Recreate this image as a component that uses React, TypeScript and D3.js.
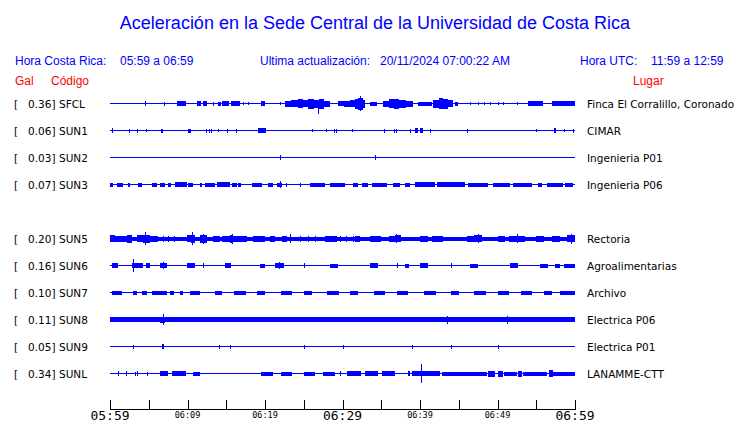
import React from "react";
import * as d3 from "d3";

// ---------- data ----------
const title = "Aceleración en la Sede Central de la Universidad de Costa Rica";
const localRange = "05:59 a 06:59";
const utcRange = "11:59 a 12:59";
const updated = "20/11/2024 07:00:22 AM";

const codes = ["SFCL", "SUN1", "SUN2", "SUN3", "SUN5", "SUN6", "SUN7", "SUN8", "SUN9", "SUNL"];
const slots = [0, 1, 2, 3, 5, 6, 7, 8, 9, 10];
const gals = [0.36, 0.06, 0.03, 0.07, 0.2, 0.16, 0.1, 0.11, 0.05, 0.34];
const places = [
  "Finca El Corralillo, Coronado",
  "CIMAR",
  "Ingenieria P01",
  "Ingenieria P06",
  "Rectoria",
  "Agroalimentarias",
  "Archivo",
  "Electrica P06",
  "Electrica P01",
  "LANAMME-CTT",
];
// background noise half-amplitude of each trace
const baseAmp = [0, 0, 0, 0, 1.5, 0, 0, 2, 0, 0];

// bursts: [startMinute, endMinute, halfAmplitude]  (minutes after 05:59)
const burstsSFCL = [
  [8.6, 9.8, 2], [11.2, 11.7, 2], [12.0, 12.5, 2], [13.9, 14.3, 1.5], [14.5, 15.4, 2], [15.6, 16.8, 2],
  [19.5, 20.0, 2], [22.6, 23.4, 2.5], [23.4, 24.2, 3], [24.2, 24.9, 4], [24.9, 25.6, 3], [25.6, 26.3, 4.5],
  [26.3, 27.0, 3.5], [27.0, 27.6, 4.5], [27.6, 28.4, 2.5],
  [29.4, 30.2, 2], [30.2, 31.0, 2.5], [31.0, 31.6, 3], [31.6, 32.0, 4.5], [32.0, 32.6, 5.5], [32.6, 32.9, 3.5], [33.5, 34.4, 1.5],
  [35.2, 36.0, 2.5], [36.0, 36.6, 4], [36.6, 37.3, 4.5], [37.3, 38.2, 3.5], [38.2, 39.1, 2.5], [39.7, 41.5, 1.5],
  [41.7, 42.4, 3.5], [42.4, 43.0, 5], [43.0, 43.6, 4.5], [43.6, 44.3, 3], [44.5, 44.9, 1.5],
  [53.9, 55.9, 2], [57.0, 60, 2],
];
const burstsSUN1 = [[6.6, 6.9, 1.5], [10.1, 10.4, 1.5], [19.1, 20.1, 2], [39.4, 39.8, 2], [40.0, 40.4, 2], [57.3, 57.6, 2]];
const burstsSUN2: number[][] = [];
const burstsSUN3 = [
  [0, 0.4, 1.5], [0.9, 1.7, 1.5], [2.3, 2.6, 1.5], [3.6, 4.1, 1.5], [5.4, 6.1, 1.5], [6.5, 7.1, 1.5],
  [7.5, 7.9, 1.5], [8.4, 9.9, 2], [10.1, 10.7, 1.5], [11.6, 11.9, 1.5], [12.3, 13.5, 1.5], [13.8, 15.5, 2],
  [15.7, 16.4, 1.5], [16.5, 16.9, 1.5], [18.3, 19.6, 1.5], [20.4, 21.0, 1.5], [21.5, 22.2, 1.5],
  [25.8, 27.7, 1.5], [28.4, 30.3, 1.5], [31.4, 32.0, 1.5], [32.5, 33.3, 1.5], [33.8, 35.7, 1.5],
  [36.5, 37.4, 1.5], [38.1, 38.7, 1.5], [39.4, 41.9, 2], [42.2, 45.8, 2], [46.2, 48.8, 1.5],
  [49.4, 51.6, 1.5], [52.0, 54.5, 1.5], [55.2, 55.7, 1.5], [56.4, 58.5, 1.5], [58.7, 59.7, 1.5],
];
const burstsSUN5 = [
  [0, 0.6, 3], [0.6, 2.2, 2.5], [2.2, 2.8, 3.5], [3.5, 4.2, 3], [4.2, 5.2, 3.5], [5.2, 6.2, 2.5], [9.9, 10.4, 3], [10.4, 11.0, 3.5],
  [11.6, 12.5, 3.5], [13.3, 14.2, 2.5], [14.5, 15.5, 2.5], [15.5, 15.9, 3.5], [15.9, 17.7, 2.5], [18.5, 20.0, 2.5],
  [20.6, 21.3, 2.5], [22.2, 22.8, 2.5], [27.7, 29.3, 2.5], [31.6, 32.3, 2.5], [33.5, 35.0, 2.5], [36.0, 36.8, 2.5],
  [36.8, 37.6, 3], [40.0, 41.0, 2.5], [41.5, 43.0, 2.5], [46.0, 47.0, 2.5], [47.0, 48.0, 3], [50.0, 51.0, 2.5],
  [51.5, 53.5, 2.5], [55.0, 56.0, 2.5], [57.0, 58.0, 2.5], [59.0, 60, 3],
];
const burstsSUN6 = [
  [0.2, 1.0, 2], [2.8, 4.2, 2], [4.7, 5.2, 2], [6.5, 7.4, 2], [9.9, 11.0, 2], [14.8, 15.6, 2], [19.4, 20.0, 1.5],
  [21.3, 22.4, 2], [28.4, 29.4, 1.5], [33.5, 34.6, 2], [38.0, 38.6, 1.5], [40.0, 41.0, 2], [46.5, 47.5, 1.5],
  [51.6, 52.6, 2], [55.5, 56.5, 1.5], [57.4, 58.0, 1.5], [58.6, 60, 1.5],
];
const burstsSUN7 = [
  [0.3, 1.6, 1.5], [3.0, 3.5, 1.5], [4.1, 4.8, 1.5], [5.4, 7.4, 1.5], [7.7, 8.2, 1.5], [9.0, 9.4, 1.5],
  [10.3, 11.6, 1.5], [13.5, 14.5, 1.5], [16.0, 17.5, 1.5], [19.0, 20.0, 1.5], [22.0, 23.5, 1.5], [25.0, 26.0, 1.5],
  [28.0, 29.5, 1.5], [31.0, 32.0, 1.5], [34.0, 35.5, 1.5], [37.0, 38.5, 1.5], [40.5, 42.0, 1.5], [44.0, 45.0, 1.5],
  [47.0, 48.5, 1.5], [50.0, 51.5, 1.5], [53.0, 54.5, 1.5], [56.0, 57.0, 1.5], [58.0, 60, 1.5],
];
const burstsSUN8 = [[6.5, 7.1, 2.5]];
const burstsSUN9 = [[6.7, 7.0, 2]];
const burstsSUNL = [
  [6.5, 7.5, 2], [8.0, 9.8, 2], [10.7, 11.6, 1.5], [19.5, 21.0, 1.5], [22.0, 23.5, 1.5], [25.0, 26.5, 1.5],
  [27.5, 29.0, 1.5], [30.6, 32.4, 2], [32.9, 34.6, 2], [35.1, 36.8, 2], [38.4, 38.7, 2],
  [39.0, 42.6, 2], [42.8, 48.6, 1.5], [48.8, 49.7, 2.5], [50.1, 50.7, 2.5], [50.9, 52.5, 1.5], [52.6, 53.2, 2.5],
  [53.3, 56.4, 1.5], [56.6, 57.1, 3], [57.1, 60, 1.5],
];
const bursts = [burstsSFCL, burstsSUN1, burstsSUN2, burstsSUN3, burstsSUN5, burstsSUN6, burstsSUN7, burstsSUN8, burstsSUN9, burstsSUNL];

// spikes: [minute, up, down]
const spikesSFCL = [
  [4.5, 2, 2], [7.0, 1.5, 1.5], [13.3, 1.5, 1.5], [17.2, 1, 1], [17.8, 1, 1], [21.9, 1, 1], [26.8, 3, 10],
  [32.2, 7, 7], [46.5, 1, 1], [47.5, 1, 1], [48.2, 1, 1], [49.0, 1, 1], [50.0, 1, 1], [50.7, 1, 1], [52.5, 1, 1],
];
const spikesSUN1 = [
  [0.26, 2, 2], [2.45, 1.5, 1.5], [3.5, 1.5, 1.5], [4.6, 1, 1], [12.4, 1.5, 1.5], [12.8, 1.5, 1.5], [13.0, 1.5, 1.5],
  [13.9, 1, 1], [15.1, 1.5, 1.5], [16.3, 1.5, 1.5], [26.1, 1, 1], [27.9, 1, 1], [28.9, 1.5, 1.5], [29.2, 1.5, 1.5],
  [31.2, 1, 1], [35.4, 1.5, 1.5], [36.6, 1.5, 1.5], [36.9, 1.5, 1.5], [38.7, 1.5, 1.5], [41.3, 1.5, 1.5],
  [46.1, 1.5, 1.5], [55.0, 1, 1], [58.6, 1, 1], [59.7, 1.5, 1.5],
];
const spikesSUN2 = [[21.9, 2, 2], [34.2, 2, 2]];
const spikesSUN3 = [[21.9, 3, 3], [22.7, 1.5, 1.5], [24.5, 1.5, 1.5]];
const spikesSUN5 = [
  [4.5, 6, 6], [6.8, 2.5, 2.5], [7.5, 2.5, 2.5], [8.3, 2.5, 2.5], [10.6, 6, 6], [12.0, 4.5, 4.5], [15.7, 4.5, 4.5],
  [23.2, 4, 4], [24.5, 2.5, 2.5], [25.5, 2.5, 2.5], [26.5, 2.5, 2.5], [29.7, 2.5, 2.5], [30.5, 2.5, 2.5],
  [31.4, 2.5, 2.5], [36.9, 4, 4], [47.5, 4, 4], [52.5, 4, 4], [59.5, 4.5, 4.5],
];
const spikesSUN6 = [[3.0, 6, 6], [6.9, 3, 3], [12.0, 2, 2], [21.8, 3, 3], [25.0, 2, 2], [37.0, 2, 2], [44.0, 2, 2]];
const spikesSUN7: number[][] = [];
const spikesSUN8 = [[6.8, 5, 5], [43.5, 3.5, 3.5], [51.2, 3.5, 3.5]];
const spikesSUN9 = [[3.0, 1.5, 1.5], [14.0, 1.5, 1.5], [15.5, 1.5, 1.5], [25.0, 1.5, 1.5], [30.0, 1.5, 1.5], [39.0, 1.5, 1.5], [44.0, 1.5, 1.5], [50.0, 1.5, 1.5]];
const spikesSUNL = [[1.0, 2, 2], [2.1, 2, 2], [3.2, 1.5, 1.5], [3.5, 2, 2], [4.8, 1.5, 1.5], [29.7, 2, 2], [40.1, 9, 9]];
const spikes = [spikesSFCL, spikesSUN1, spikesSUN2, spikesSUN3, spikesSUN5, spikesSUN6, spikesSUN7, spikesSUN8, spikesSUN9, spikesSUNL];

const tickMinutes = [0, 5, 10, 15, 20, 25, 30, 35, 40, 45, 50, 55, 60];
const tickLabels = [
  { m: 0, label: "05:59", big: true },
  { m: 10, label: "06:09", big: false },
  { m: 20, label: "06:19", big: false },
  { m: 30, label: "06:29", big: true },
  { m: 40, label: "06:39", big: false },
  { m: 50, label: "06:49", big: false },
  { m: 60, label: "06:59", big: true },
];

// ---------- chart ----------
const W = 740;
const H = 423;
const BLUE = "#0000ff";
const RED = "#ff0000";
const HELV = "'Liberation Sans', Arial, sans-serif";
const DJV = "'DejaVu Sans', sans-serif";
const MONO = "'DejaVu Sans Mono', monospace";

export default function App() {
  const x = d3.scaleLinear().domain([0, 60]).range([110, 575]);
  const y = d3.scaleLinear().domain([0, 1]).range([103.5, 130.5]);
  const axisY = 409.5;

  return (
    <svg width={W} height={H} style={{ position: "absolute", left: 0, top: 0, background: "#fff" }}>
      <rect width={W} height={H} fill="#fff" />
      <text x={375} y={29} textAnchor="middle" fontFamily={HELV} fontSize={18} fill={BLUE}>
        {title}
      </text>
      <g fontFamily={HELV} fontSize={12} fill={BLUE}>
        <text x={15} y={65}>Hora Costa Rica:</text>
        <text x={120} y={65}>{localRange}</text>
        <text x={260} y={65}>Ultima actualización:</text>
        <text x={380} y={65}>{updated}</text>
        <text x={580} y={65}>Hora UTC:</text>
        <text x={651} y={65}>{utcRange}</text>
      </g>
      <g fontFamily={HELV} fontSize={12} fill={RED}>
        <text x={15} y={85}>Gal</text>
        <text x={51} y={85}>Código</text>
        <text x={633} y={85}>Lugar</text>
      </g>

      {codes.map((code, i) => {
        const cy = y(slots[i]);
        const base = baseAmp[i];
        return (
          <g key={code}>
            <g fontFamily={DJV} fontSize={10.5} fill="#000">
              <text x={14} y={cy + 4.5}>[</text>
              <text x={55.5} y={cy + 4.5} textAnchor="end">{gals[i].toFixed(2) + "]"}</text>
              <text x={59} y={cy + 4.5}>{code}</text>
              <text x={587} y={cy + 4.5}>{places[i]}</text>
            </g>
            <g shapeRendering="crispEdges" fill={BLUE} stroke="none">
              <rect x={x(0)} y={cy - 0.5 - base} width={x(60) - x(0)} height={1 + 2 * base} />
              {bursts[i].map((b, j) => (
                <rect key={j} x={x(b[0])} y={cy - 0.5 - b[2]} width={Math.max(1, x(b[1]) - x(b[0]))} height={1 + 2 * b[2]} />
              ))}
              {spikes[i].map((s, j) => (
                <rect key={"s" + j} x={x(s[0])} y={cy - 0.5 - s[1]} width={1} height={1 + s[1] + s[2]} />
              ))}
            </g>
          </g>
        );
      })}

      <g stroke="#000" strokeWidth={1} shapeRendering="crispEdges">
        <line x1={x(0)} x2={x(60)} y1={axisY} y2={axisY} />
        {tickMinutes.map((m) => (
          <line key={m} x1={Math.round(x(m)) + 0.5} x2={Math.round(x(m)) + 0.5} y1={axisY - 10} y2={axisY} />
        ))}
      </g>
      <g fontFamily={MONO} fill="#000" textAnchor="middle">
        {tickLabels.map((t) => (
          <text key={t.m} x={x(t.m)} y={t.big ? 420 : 418} fontSize={t.big ? 13 : 8.5}>
            {t.label}
          </text>
        ))}
      </g>
    </svg>
  );
}
